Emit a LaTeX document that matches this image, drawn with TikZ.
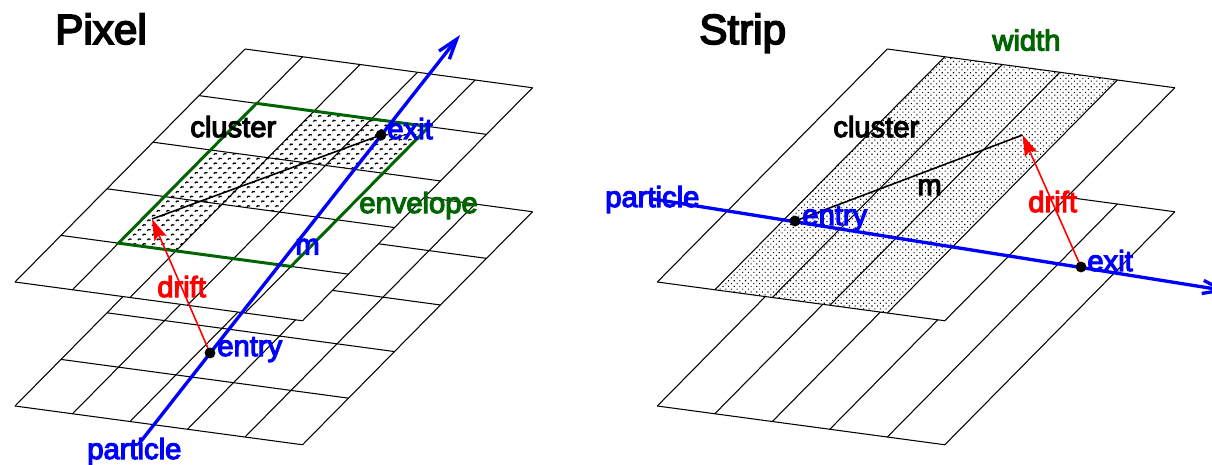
\documentclass[tikz,border=0pt]{standalone}
\usepackage{fontspec}
\setmainfont[RawFeature={embolden=4}]{Liberation Sans}
\usetikzlibrary{arrows.meta,patterns}
\pgfdeclarepatternformonly{pixelmarks}{\pgfqpoint{-1pt}{-1pt}}{\pgfqpoint{6.4pt}{6.4pt}}{\pgfqpoint{5.4pt}{5.4pt}}{
  \pgfsetlinewidth{0.7pt}
  \pgfpathmoveto{\pgfqpoint{0.2pt}{0.5pt}}
  \pgfpathlineto{\pgfqpoint{0.8pt}{1.2pt}}
  \pgfpathlineto{\pgfqpoint{2.0pt}{1.0pt}}
  \pgfpathmoveto{\pgfqpoint{2.9pt}{3.2pt}}
  \pgfpathlineto{\pgfqpoint{3.5pt}{3.9pt}}
  \pgfpathlineto{\pgfqpoint{4.7pt}{3.7pt}}
  \pgfusepath{stroke}
}
\pgfdeclarepatternformonly{stripdots}{\pgfqpoint{-1pt}{-1pt}}{\pgfqpoint{4.2pt}{4.2pt}}{\pgfqpoint{3.2pt}{3.2pt}}{
  \pgfpathrectangle{\pgfqpoint{0pt}{0pt}}{\pgfqpoint{0.62pt}{0.62pt}}
  \pgfpathrectangle{\pgfqpoint{1.6pt}{1.6pt}}{\pgfqpoint{0.62pt}{0.62pt}}
  \pgfusepath{fill}
}
\definecolor{envgreen}{RGB}{0,100,0}
\tikzset{
  gridline/.style={line width=0.6pt,black},
  envline/.style={line width=1.7pt,envgreen},
  beam/.style={-{Straight Barb[length=11.5pt,width=7.5pt]},line width=1.9pt,blue},
  driftline/.style={-{Stealth[length=12pt,width=7.5pt,inset=2pt]},line width=0.9pt,red},
  mline/.style={line width=0.9pt,black},
  hitdot/.style={circle,fill=black,inner sep=0pt,minimum size=6.2pt},
  title/.style={anchor=base west,inner sep=0pt,font=\fontsize{24}{24}\selectfont},
  lbl/.style={anchor=base west,inner sep=0pt,font=\fontsize{16.6}{18}\selectfont},
}
\begin{document}
\begin{tikzpicture}[x=0.02cm,y=-0.02cm]
  \useasboundingbox (0,0) rectangle (1212,464);
  % corner points of the four planes
  \foreach \n/\x/\y in {pa/245/49,pb/245/173,sa/887.3/49,sb/887.3/173} {
    \foreach \i in {0,...,5} {
      \foreach \j in {0,...,5} {
        \coordinate (\n\i\j) at ({\x+\i*57.5-\j*46},{\y+\i*7.75+\j*46.6});
      }
    }
  }
  % pixel planes
  \foreach \n in {pb,pa} {
    \fill[white] (\n00) -- (\n50) -- (\n55) -- (\n05) -- cycle;
    \foreach \k in {0,...,5} {
      \draw[gridline] (\n\k0) -- (\n\k5);
      \draw[gridline] (\n0\k) -- (\n5\k);
    }
  }
  \fill[pattern=pixelmarks] (pa21) -- (pa41) -- (pa42) -- (pa32) -- (pa33)
    -- (pa23) -- (pa24) -- (pa14) -- (pa12) -- (pa22) -- cycle;
  \draw[envline] (pa11) -- (pa41) -- (pa44) -- (pa14) -- cycle;
  % strip planes
  \foreach \n in {sb,sa} {
    \fill[white] (\n00) -- (\n50) -- (\n55) -- (\n05) -- cycle;
    \draw[gridline] (\n00) -- (\n50);
    \draw[gridline] (\n05) -- (\n55);
    \foreach \k in {0,...,5} {
      \draw[gridline] (\n\k0) -- (\n\k5);
    }
  }
  \fill[pattern=stripdots] (sa10) -- (sa40) -- (sa45) -- (sa15) -- cycle;
  % pixel track
  \coordinate (pstart) at (138,445);
  \coordinate (pend) at (460,35);
  \coordinate (pdrift) at (152,219);
  \coordinate (pentry) at (210,353);
  \coordinate (pexit) at (381,135);
  \draw[beam] (pstart) -- (pend);
  \draw[mline] (pdrift) -- (pexit);
  \draw[driftline] (pentry) -- (pdrift);
  \node[hitdot] (pentrydot) at (pentry) {};
  \node[hitdot] (pexitdot) at (pexit) {};
  % strip track
  \coordinate (sstart) at (653,199);
  \coordinate (send) at (1228,291);
  \coordinate (sdrift) at (1022.5,135);
  \coordinate (sentry) at (795,221);
  \coordinate (sexit) at (1081,267);
  \draw[beam] (sstart) -- (send);
  \draw[mline] (sentry) -- (sdrift);
  \draw[driftline] (sexit) -- (sdrift);
  \node[hitdot] (sentrydot) at (sentry) {};
  \node[hitdot] (sexitdot) at (sexit) {};
  % labels
  \node[title] (ptitle) at (55,44) {Pixel};
  \node[lbl] (pcluster) at (190,137) {cluster};
  \node[lbl,blue] (pexitlbl) at (387,139) {exit};
  \node[lbl,envgreen] (penvelope) at (359,213) {envelope};
  \node[lbl,blue] (pm) at (295,254.5) {m};
  \node[lbl,red] (pdriftlbl) at (157,297) {drift};
  \node[lbl,blue] (pentrylbl) at (217,356) {entry};
  \node[lbl,blue] (pparticle) at (87,459) {particle};
  \node[title] (stitle) at (699,44) {Strip};
  \node[lbl] (scluster) at (833,137) {cluster};
  \node[lbl,envgreen] (swidth) at (992,50.5) {width};
  \node[lbl,blue] (sparticle) at (605,207) {particle};
  \node[lbl,blue] (sentrylbl) at (802,225) {entry};
  \node[lbl] (sm) at (917,195) {m};
  \node[lbl,red] (sdriftlbl) at (1028,212) {drift};
  \node[lbl,blue] (sexitlbl) at (1087,271) {exit};
\end{tikzpicture}
\end{document}
